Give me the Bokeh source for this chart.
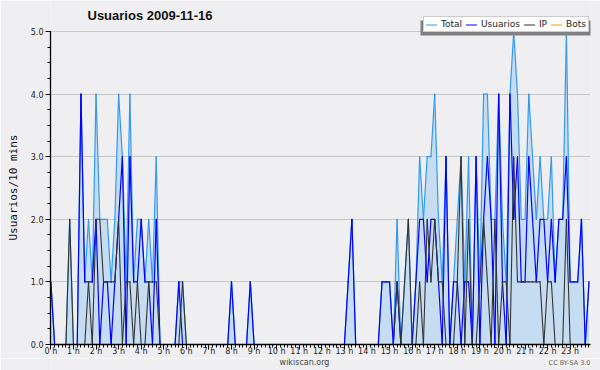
from bokeh.plotting import figure
from bokeh.layouts import column
from bokeh.models import (Range1d, FixedTicker, Label, Legend, LegendItem, Title,
                          BoxAnnotation, ColumnDataSource, PrintfTickFormatter)
from bokeh.embed import file_html
from bokeh.resources import INLINE

# ---- data: one value per 10-minute slot (144 slots), grouped by hour ----
total = [
    1, 0, 0, 0, 0, 2,   0, 0, 4, 1, 2, 1,   4, 2, 2, 2, 1, 2,   4, 3, 1, 4, 1, 2,
    2, 1, 2, 1, 3, 0,   0, 0, 0, 0, 1, 1,   0, 0, 0, 0, 0, 0,   0, 0, 0, 0, 0, 0,
    1, 0, 0, 0, 0, 1,   0, 0, 0, 0, 0, 0,   0, 0, 0, 0, 0, 0,   0, 0, 0, 0, 0, 0,
    0, 0, 0, 0, 0, 0,   0, 1, 2, 0, 0, 0,   0, 0, 0, 0, 1, 1,   1, 0, 2, 0, 1, 2,
    0, 1, 3, 2, 3, 3,   4, 2, 1, 3, 0, 1,   2, 3, 1, 3, 0, 3,   1, 4, 4, 2, 2, 4,
    2, 1, 4, 5, 4, 2,   2, 4, 3, 2, 3, 2,   2, 3, 1, 2, 2, 5,   1, 1, 1, 2, 0, 1,
]
users = [
    1, 0, 0, 0, 0, 0,   0, 0, 4, 1, 1, 1,   2, 0, 1, 1, 0, 1,   2, 3, 0, 3, 1, 1,
    2, 1, 1, 0, 2, 0,   0, 0, 0, 0, 1, 0,   0, 0, 0, 0, 0, 0,   0, 0, 0, 0, 0, 0,
    1, 0, 0, 0, 0, 1,   0, 0, 0, 0, 0, 0,   0, 0, 0, 0, 0, 0,   0, 0, 0, 0, 0, 0,
    0, 0, 0, 0, 0, 0,   0, 1, 2, 0, 0, 0,   0, 0, 0, 0, 1, 1,   1, 0, 1, 0, 0, 0,
    0, 1, 2, 2, 1, 2,   2, 1, 0, 3, 0, 1,   1, 0, 1, 1, 0, 3,   0, 2, 3, 2, 0, 4,
    1, 0, 4, 2, 3, 1,   1, 3, 2, 1, 2, 2,   1, 2, 1, 2, 2, 3,   1, 1, 1, 2, 0, 1,
]
ip = [
    0, 0, 0, 0, 0, 2,   0, 0, 0, 0, 1, 0,   2, 2, 1, 1, 1, 1,   2, 0, 1, 1, 0, 1,
    0, 0, 1, 1, 1, 0,   0, 0, 0, 0, 0, 1,   0, 0, 0, 0, 0, 0,   0, 0, 0, 0, 0, 0,
    0, 0, 0, 0, 0, 0,   0, 0, 0, 0, 0, 0,   0, 0, 0, 0, 0, 0,   0, 0, 0, 0, 0, 0,
    0, 0, 0, 0, 0, 0,   0, 0, 0, 0, 0, 0,   0, 0, 0, 0, 0, 0,   0, 0, 1, 0, 1, 2,
    0, 0, 1, 0, 2, 1,   2, 1, 1, 0, 0, 0,   1, 3, 0, 2, 0, 0,   1, 2, 1, 0, 2, 0,
    1, 1, 0, 3, 1, 1,   1, 1, 1, 1, 1, 0,   1, 1, 0, 0, 0, 2,   0, 0, 0, 0, 0, 0,
]
bots = [0] * 144
slots = list(range(144))

hour_ticks = [h * 6 for h in range(24)]
hour_labels = ["0 h", "1 h", "2 h", "3 h", "4 h", "5 h", "6 h", "7 h", "8 h", "9 h",
               "10 h", "11 h", "12 h", "13 h", "14 h", "15 h", "16 h", "17 h", "18 h",
               "19 h", "20 h", "21 h", "22 h", "23 h"]
y_ticks = [0, 1, 2, 3, 4, 5]
series_names = ["Total", "Usuarios", "IP", "Bots"]

title_text = "Usuarios  2009-11-16"
ylabel_text = "Usuarios/10 mins"
footer_site = "wikiscan.org"
footer_license = "CC BY-SA 3.0"

BG = "#efeff1"

# ---- main figure (frame extends to the top so title/legend are inside it) ----
p = figure(width=600, height=358, output_backend="svg", toolbar_location=None,
           x_range=Range1d(-0.1, 143.4), y_range=Range1d(0, 5.495),
           min_border_left=46, min_border_right=10, min_border_top=0, min_border_bottom=14)
p.background_fill_color = BG
p.border_fill_color = BG
p.outline_line_color = None

src = ColumnDataSource(dict(slot=slots, total=total, users=users, ip=ip, bots=bots))
p.varea(x="slot", y1="bots", y2="total", source=src, fill_color="#c6dcf0", fill_alpha=1)


def series_line(values, color, width):
    # one straight segment per 10-minute interval, joined with round caps
    return p.segment(x0=slots[:-1], y0=values[:-1], x1=slots[1:], y1=values[1:],
                     line_color=color, line_width=width, line_cap="round")


r_bots = series_line(bots, "#ff9900", 1.1)
r_total = series_line(total, "#3399ee", 1.2)
r_users = series_line(users, "#0000ff", 1.2)
r_ip = series_line(ip, "#333333", 1.1)

# axes
p.xaxis.ticker = FixedTicker(ticks=hour_ticks, minor_ticks=slots)
p.xaxis.major_label_overrides = {t: lab for t, lab in zip(hour_ticks, hour_labels)}
p.yaxis.ticker = FixedTicker(ticks=y_ticks, minor_ticks=[i / 4 for i in range(21)])
p.yaxis.formatter = PrintfTickFormatter(format="%.1f")
p.yaxis.bounds = (0, 5)
for ax in (p.xaxis, p.yaxis):
    ax.axis_line_color = "black"
    ax.axis_line_width = 1.3
    ax.major_tick_line_color = "black"
    ax.minor_tick_line_color = "black"
    ax.major_tick_in = 0
    ax.major_tick_out = 5
    ax.minor_tick_in = 0
    ax.minor_tick_out = 3
    ax.major_label_text_font = "DejaVu Sans"
    ax.major_label_text_font_size = "8px"
    ax.major_label_text_color = "#222222"
p.yaxis.major_label_standoff = 2
p.xaxis.major_label_standoff = -3
p.xgrid.visible = False
p.ygrid.grid_line_color = "#c8c8c8"
p.ygrid.grid_line_width = 1

p.add_layout(Title(text=ylabel_text, align="left", offset=104, vertical_align="top",
                   standoff=12, text_font="DejaVu Sans Mono", text_font_size="11px",
                   text_font_style="normal", text_color="#111111"), "left")

# legend with a grey drop shadow
shadow = BoxAnnotation(left=370, right=541, bottom=309, top=324,
                       left_units="screen", right_units="screen",
                       bottom_units="screen", top_units="screen",
                       fill_color="#808080", fill_alpha=1, line_color=None)
p.add_layout(shadow)
legend = Legend(items=[LegendItem(label=series_names[0], renderers=[r_total]),
                       LegendItem(label=series_names[1], renderers=[r_users]),
                       LegendItem(label=series_names[2], renderers=[r_ip]),
                       LegendItem(label=series_names[3], renderers=[r_bots])],
                location=(373, 312), orientation="horizontal",
                glyph_width=11, glyph_height=9, label_width=0, label_height=9,
                label_standoff=4, spacing=4, padding=2, margin=0,
                label_text_font="DejaVu Sans", label_text_font_size="9px",
                label_text_color="#222222",
                background_fill_color="white", background_fill_alpha=1,
                border_line_color="#999999", border_line_width=1)
p.add_layout(legend, "center")

p.add_layout(Label(x=37, y=329, x_units="screen", y_units="screen", text=title_text,
                   text_font="Liberation Sans", text_font_size="13px", text_font_style="bold",
                   text_color="#111111", text_align="left", text_baseline="middle"))

# ---- footer strip (its frame is aligned with the main frame: left edge at 46px) ----
foot = figure(width=600, height=12, output_backend="svg", toolbar_location=None,
              x_range=Range1d(0, 544), y_range=Range1d(0, 12),
              x_axis_type=None, y_axis_type=None, min_border=0)
foot.background_fill_color = BG
foot.border_fill_color = BG
foot.outline_line_color = None
foot.add_layout(Label(x=254, y=8, x_units="screen", y_units="screen", text=footer_site,
                      text_font="DejaVu Sans", text_font_size="8px", text_color="#444444",
                      text_align="center", text_baseline="middle"))
foot.add_layout(Label(x=540, y=8, x_units="screen", y_units="screen", text=footer_license,
                      text_font="DejaVu Sans", text_font_size="6.5px", text_color="#666666",
                      text_align="right", text_baseline="middle"))

layout = column(p, foot, spacing=0)
open("out.html", "w").write(file_html(layout, INLINE))
